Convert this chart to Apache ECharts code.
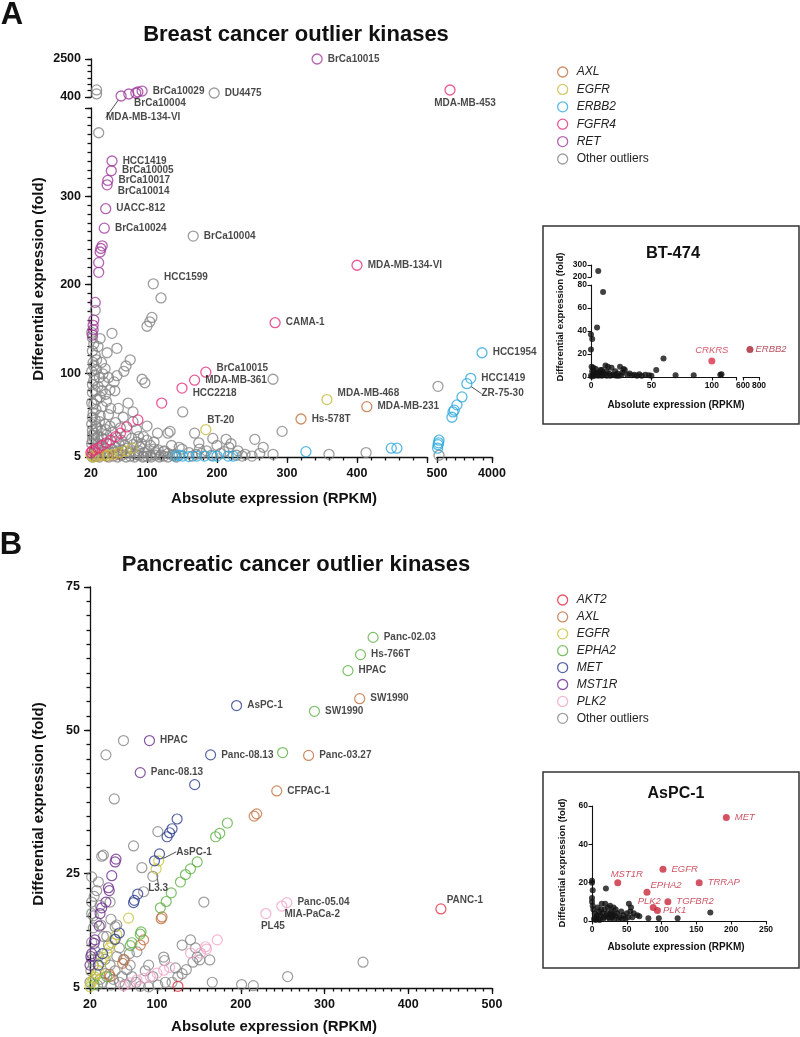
<!DOCTYPE html>
<html>
<head>
<meta charset="utf-8">
<script src="https://cdn.jsdelivr.net/npm/echarts@6/dist/echarts.min.js"></script>
<style>
  html, body { margin: 0; background: #fff; }
  #main { width: 800px; height: 1037px; }
</style>
</head>
<body>
<div id="main"></div>
<script>
// ---- panel A: breast cancer outliers  [RPKM, fold, label]
const A_Other = [
  [28,790],[28,570],[196,620,'DU4475'],
  [31,372],[166,255,'BrCa10004'],[109,201,'HCC1599'],[120,185],[107,163],[104,158],[100,153],[26,171],[33,139],
  [280,93],[564,85],[293,34],[627,7],[360,8],[413,10],[280,8],[266,16],[254,25],[261,9],
  [213,25],[217,16],[194,26],[168,32],[174,21],[151,56],[133,34],[130,32],[115,32],[146,16],
  [50,145],[57,128],[43,123],[76,115],[70,108],[67,102],[37,99],[93,93],[97,89],[57,97],[53,90],
  [47,81],[54,80],[41,76],[33,73],[73,66],[59,60],[80,56],[66,50],[45,53],[27,59],[85,36],
  [100,24],[90,16],[116,13],[96,10],
  [22,140],[28,115],[25,98],[22,87],[30,130],[35,112],[24,108],[26,120],[38,90],[30,85],[28,70],
  [24,65],[36,62],[42,68],[48,60],[22,50],[32,45],[40,42],[55,44],[62,38],[70,30],[78,26],[85,22],
  [92,20],[105,18],[110,14],[125,12],[130,9],[140,8],[120,7],[105,7],[95,6],[85,8],[75,10],[65,12],
  [50,14],[45,20],[38,25],[30,28],[25,32],[22,35],[27,40],[35,35],[42,30],[60,20],[68,18],[55,16],
  [160,10],[170,8],[185,12],[205,9],[230,12],[240,8],[250,6],[110,22],[135,18],[150,14],[175,14],
  [200,18],[220,20],[95,28],[80,45],[100,40],[30,20],[22,24],[26,15],[22,8],
  [22,5],[26,6],[32,5],[38,7],[45,5],[52,6],[58,5],[64,7],[70,5],[76,6],[82,5],[88,7],[94,5],[100,6],
  [106,5],[112,7],[118,5],[124,6],[130,5],[136,7],[142,5],[28,10],[40,11],[52,10],[64,13],[76,11],
  [88,12],[100,11],[112,10],[124,11],[165,6],[178,9],[192,7],[210,11],[228,7],[236,6],
  [21,20],[22,30],[21,42],[23,55],[21,66],[22,78],[24,92],[21,102],[23,112],[22,125],[24,133],[21,146],
  [26,47],[33,52],[29,38],[35,27],[41,36],[47,40],[51,33],[57,27],[63,24],[34,18],[40,15],[46,11],
  [25,26],[31,13],[58,12],[72,15],[80,19],[88,28],[26,80],[32,95],[28,104],[40,105],[45,95],[36,80]
];
const A_RET = [
  [343,2500,'BrCa10015'],[93,730,'BrCa10029'],[87,676,'BrCa10004'],[84,620],[74,566],[63,455,'MDA-MB-134-VI'],
  [50,340,'HCC1419'],[49,329,'BrCa10005'],[44,318,'BrCa10017'],[43,313,'BrCa10014'],[41,286,'UACC-812'],
  [39,264,'BrCa10024'],[36,244],[33,237],[34,241],[31,225],[31,214],[26,180],[24,160],[23,154],[23,149],[22,143]
];
const A_FGFR4 = [
  [1327,787,'MDA-MB-453'],[400,222,'MDA-MB-134-VI'],[283,157,'CAMA-1'],[184,101,'BrCa10015'],
  [168,92,'MDA-MB-361'],[150,83,'HCC2218'],[121,66],[87,47],[71,39],[62,32],[55,28],[48,24],[42,21],
  [36,18],[30,15],[25,13],[20,10],[22,12]
];
const A_EGFR = [[184,36,'BT-20'],[357,70,'MDA-MB-468'],[79,15],[61,10],[51,8],[37,7],[23,5],[30,6],[44,7],[70,12],[20,7]];
const A_AXL = [[320,48,'Hs-578T'],[414,62,'MDA-MB-231'],[28,6],[42,6],[58,8]];
const A_ERBB2 = [
  [3364,123,'HCC1954'],[2645,94,'HCC1419'],[2400,88,'ZR-75-30'],[2090,73],[1770,64],[1600,58],[1520,56],
  [1450,50],[630,24],[600,21],[565,19],[540,15],[327,11],[449,15],[457,15],
  [140,6],[146,7],[151,6],[160,5.5],[171,6],[182,6],[194,6],[200,6],[216,6],[223,6]
];

// ---- panel B: pancreatic cancer outliers
const B_Other = [
  [60,48.2],[39,45.7],[49,38],[101,32.3],[72,29.8],[156,20],[346,9.5],[256,7],[201,5.6],[215,5.4],[166,6],
  [140,13.4],[130,12.5],[148,10.4],[163,9.9],[108,10.4],[109,9.8],[122,8.5],[84,21.8],[82,26],
  [22,24.4],[30,23.5],[28,22],[34,28],[36,28.2],[32,19.4],[22,18],[52,16],[24,15.5],[22,13],[76,11.3],
  [64,8.2],[130,7.5],[135,8.2],[118,6],[90,9],[86,8],[70,7],[55,6],[45,5.5],[35,6],[27,7.5],[24,9],
  [30,10.5],[38,10],[44,9],[50,8],[60,10],[67,11],[55,12],[40,14],[28,16.5],[33,16],[45,17],[22,20],
  [25,21],[95,24.5],[101,5.5],[80,5.3],[90,5.2],[110,6],[125,7],[143,9.5],[146,12],[151,9.9],
  [24,17.6],[44,20],[50,15.7],[20,6],[22,10],[32,6.5],[58,7],[75,6],[95,7],
  [21,8],[26,11.5],[29,5.5],[38,7.5],[48,6.5],[62,5.6],[68,9],[52,10.5],[42,12.5],[36,14]
];
const B_AKT2 = [[439,18.8,'PANC-1'],[125,5.3]];
const B_AXL = [
  [342,55.5,'SW1990'],[281,45.6,'Panc-03.27'],[243,39.4,'CFPAC-1'],[216,35],[219,35.4],
  [105,17.1],[106,17.4],[84,13.4],[80,12.5],[61,9.9],[59,9.3],[44,7],[43,7.4]
];
const B_EGFR = [
  [102,27.2,'AsPC-1'],[99,25.8,'L3.3'],[66,17.2],[52,14.3],[46,12.9],[40,11.1],[34,9.5],[30,8.1],
  [26,6.9],[22,6],[24,6.5],[28,7.5],[36,10.3],[43,12],[49,13.6],[20,5.2]
];
const B_EPHA2 = [
  [358,66.2,'Panc-02.03'],[343,63.2,'Hs-766T'],[328,60.4,'HPAC'],[288,53.3,'SW1990'],[250,46.1],
  [184,33.8],[175,32],[170,31.4],[148,27],[140,25.8],[134,24.8],[128,23.5],[117,21.6],[111,20.1],
  [104,19],[81,14.8],[80,14.4],[70,12.9],[68,12.4],[40,7],[25,5.6]
];
const B_MET = [
  [195,54.3,'AsPC-1'],[164,45.7,'Panc-08.13'],[145,40.5],[124,34.5],[118,32.8],[115,32.1],[112,31.4],
  [103,28.4],[97,27.2],[77,21.4],[72,19.9],[73,20.3],[55,14.6],[50,13.5],[35,11],[30,9]
];
const B_MST1R = [
  [91,48.2,'HPAC'],[80,42.6,'Panc-08.13'],[50,27],[51,27.5],[46,24.6],[42,22.5],[43,22],[39,20],
  [34,19],[32,18],[31,15.8],[26,13.4],[25,12.8],[22,11],[21,10.5],[20,9]
];
const B_PLK2 = [
  [255,19.9,'Panc-05.04'],[249,19.3,'MIA-PaCa-2'],[230,18,'PL45'],[172,13.4],[158,12.2],[159,11.8],
  [140,11.1],[152,11.1],[108,8.1],[100,7.6],[92,7],[84,6.7],[76,6.4],[68,5.9],[60,5.4],[115,8.6]
];

// ---- inset BT-474
const BT_kinases = [
  [6,250],[10,74],[5,43],[0,37],[1,33],[0,24],[0.5,9],[2,8],[4,7],[1,5],[3,4],[5,3],[7,2],[2,2],[8,6],
  [10,4],[12,10],[14,9],[15,3],[17,8],[18,2],[20,5],[22,3],[24,9],[26,4],[27,7],[28,6],[30,2],[32,3],
  [34,1.5],[36,2],[38,1],[40,2.5],[42,1],[45,2],[48,1.5],[50,1],[54,6],[60,16],[70,1.5],[85,1.5],
  [107,2],[108,2.5],[0,1],[1,0.5],[3,1],[6,1],[9,1],[11,2],[13,1],[16,1],[19,1.5],[21,1],[23,1],
  [25,1.5],[6,4],[9,6],[13,5]
];
const BT_CRKRS = [[100,14,'CRKRS']];
const BT_ERBB2 = [[687,24,'ERBB2']];

// ---- inset AsPC-1
const AS_kinases = [
  [0,21],[0,20],[1,16],[0,12],[0,10],[1,8],[20,17],[53,9],[170,4.5],[123,1.5],[96,1.5],[81,1.5],
  [2,6],[4,4],[6,2],[8,7],[10,5],[12,3],[14,9],[16,1],[18,6],[22,4],[24,2],[26,8],[28,5],[30,3],
  [32,1],[34,6],[36,4],[40,2],[42,5],[45,3],[48,1],[50,4],[55,5],[58,2],[60,4],[65,3],[68,2.5],
  [3,1],[5,0.5],[7,3],[9,1],[11,0.5],[13,6],[15,4],[17,2],[19,9],[21,3],[23,7],[25,1],[27,4],
  [29,2],[31,7],[33,3],[38,1],[44,1],[52,2],[56,7]
];
const AS_hits = [
  [193,54,'MET'],[102,27,'EGFR'],[154,20,'TRRAP'],[37,20,'MST1R'],[79,15,'EPHA2'],
  [109,10,'TGFBR2'],[88,7,'PLK2'],[94,5.5,'PLK1']
];

const colA = { AXL:'#c07040', EGFR:'#c8bc40', ERBB2:'#2ea8dc', FGFR4:'#e4307c', RET:'#a03c9c', Other:'#858585' };
const colB = { AKT2:'#e02a3c', AXL:'#c07040', EGFR:'#c8c43c', EPHA2:'#5cb044', MET:'#2c3c8c', MST1R:'#6c2c8c', PLK2:'#f0a4c8', Other:'#858585' };

// label placement (not data)
const labelPlace = {
  'A_RET|BrCa10004': { pos:'bottom', dx:22, dy:-4 },
  'A_RET|MDA-MB-134-VI': { pos:'bottom', dx:22, dy:6, leader:true },
  'A_RET|BrCa10014': { dy:6 },
  'A_FGFR4|MDA-MB-453': { pos:'bottom', dx:15, dy:-2 },
  'A_FGFR4|BrCa10015': { dy:-4 },
  'A_FGFR4|HCC2218': { dy:5 },
  'A_Other|HCC1599': { dy:-7 },
  'A_EGFR|BT-20': { pos:'top', dx:15, dy:6 },
  'A_EGFR|MDA-MB-468': { dy:-6 },
  'A_ERBB2|ZR-75-30': { dx:4, dy:10, leader:true },
  'B_AKT2|PANC-1': { pos:'top', dx:24, dy:7 },
  'B_EGFR|AsPC-1': { dx:7, dy:-9, leader:true },
  'B_EGFR|L3.3': { pos:'bottom', dx:2, dy:4, leader:true },
  'B_PLK2|MIA-PaCa-2': { dx:-8, dy:8 },
  'B_PLK2|PL45': { pos:'bottom', dx:7, dy:-3 },
  'BT|CRKRS': { pos:'top', dy:3 },
  'BT|ERBB2': { dx:-3 },
  'AS|MST1R': { pos:'top', dx:9, dy:5 },
  'AS|EPHA2': { dx:-5, dy:-7 },
  'AS|PLK2': { pos:'top', dx:-4, dy:7 },
  'AS|PLK1': { dx:-3 }
};

const FONT = '"Liberation Sans", Arial, Helvetica, sans-serif';
const grids = [], xAxes = [], yAxes = [], series = [];

function steps(from, to, step) {
  const out = [];
  for (let v = from; v <= to + 1e-6; v += step) out.push(Math.round(v * 1000) / 1000);
  return out;
}

function axisOf(gi, r, show, st, pos) {
  return {
    type: 'value', gridIndex: gi, min: r.min, max: r.max, show: show, position: pos,
    axisLine: { show: true, onZero: false, lineStyle: { color: '#111', width: st.lw } },
    axisTick: { show: true, customValues: r.major, length: st.major, lineStyle: { color: '#111', width: st.lw } },
    axisLabel: { show: true, customValues: r.labels, formatter: function (v) { return String(v); },
                 fontFamily: FONT, fontSize: st.fs, fontWeight: 'bold', color: '#111', margin: st.margin },
    splitLine: { show: false }
  };
}
function minorOf(gi, r, st, pos) {
  return {
    type: 'value', gridIndex: gi, min: r.min, max: r.max, position: pos,
    axisLine: { show: false, onZero: false }, axisLabel: { show: false }, splitLine: { show: false },
    axisTick: { show: true, customValues: r.minor, length: st.minor, lineStyle: { color: '#111', width: st.lw } }
  };
}
function addGrid(box, xs, ys, showX, showY, st) {
  const gi = grids.length;
  grids.push({ left: box[0], top: box[1], width: box[2], height: box[3] });
  const xi = xAxes.length;
  xAxes.push(axisOf(gi, xs, showX, st, 'bottom'));
  if (showX && xs.minor) xAxes.push(minorOf(gi, xs, st, 'bottom'));
  const yi = yAxes.length;
  yAxes.push(axisOf(gi, ys, showY, st, 'left'));
  if (showY && ys.minor) yAxes.push(minorOf(gi, ys, st, 'left'));
  return { xi: xi, yi: yi };
}

const mainLabel = { fontFamily: FONT, fontSize: 10, fontWeight: 'bold', color: '#1a1a1a' };
const insetLabel = { fontFamily: FONT, fontSize: 9.5, fontStyle: 'italic', color: '#c0283c' };

function addSeries(key, name, pts, grd, pick, style, lblStyle) {
  const buckets = {};
  pts.forEach(function (p) { const g = pick(p); (buckets[g] = buckets[g] || []).push(p); });
  Object.keys(buckets).forEach(function (g) {
    const lays = [];
    const data = buckets[g].map(function (p, i) {
      const it = { value: [p[0], p[1]] };
      if (p[2]) {
        const pl = labelPlace[key + '|' + p[2]] || {};
        it.label = Object.assign({ show: true, formatter: p[2], position: pl.pos || 'right', distance: 5 }, lblStyle);
        lays[i] = { dx: pl.dx || 0, dy: pl.dy || 0 };
        if (pl.leader) it.labelLine = { show: true, lineStyle: { color: '#222', width: 0.8 } };
      }
      return it;
    });
    series.push({
      type: 'scatter', name: name, xAxisIndex: grd[g].xi, yAxisIndex: grd[g].yi,
      clip: false, symbol: 'circle', symbolSize: style.size,
      itemStyle: style.item, data: data, silent: true,
      label: { show: false },
      labelLayout: function (params) { return lays[params.dataIndex] || {}; }
    });
  });
}

const stMain = { lw: 1.3, major: 6, minor: 3.5, fs: 12.5, margin: 10 };
const stInset = { lw: 1.1, major: 3.5, minor: 2, fs: 8.5, margin: 4 };

// ---- panel A broken axes
const axA = {
  x1: { min: 20, max: 500, labels: [20,100,200,300,400], major: [100,200,300,400,500], minor: steps(20, 500, 20) },
  x2: { min: 500, max: 4000, labels: [500,4000], major: [500,4000], minor: steps(500, 4000, 3500 / 6) },
  y1: { min: 5, max: 400, labels: [5,100,200,300], major: [5,100,200,300,400], minor: steps(10, 400, 10) },
  y2: { min: 400, max: 2500, labels: [400,2500], major: [400,2500], minor: steps(400, 2500, 350) }
};
const gA = [
  addGrid([91, 108, 336, 349], axA.x1, axA.y1, true, true, stMain),
  addGrid([437, 108, 55, 349], axA.x2, axA.y1, true, false, stMain),
  addGrid([91, 59, 336, 38], axA.x1, axA.y2, false, true, stMain),
  addGrid([437, 59, 55, 38], axA.x2, axA.y2, false, false, stMain)
];
const pickA = function (p) { return (p[0] > 500 ? 1 : 0) + (p[1] > 400 ? 2 : 0); };

// ---- panel B
const axB = {
  x: { min: 20, max: 500, labels: [20,100,200,300,400,500], major: [20,100,200,300,400,500], minor: steps(20, 500, 10) },
  y: { min: 5, max: 75, labels: [5,25,50,75], major: [5,25,50,75], minor: steps(5, 75, 2.5) }
};
const gB = [addGrid([90, 587, 402, 401], axB.x, axB.y, true, true, stMain)];
const pickOne = function () { return 0; };

// ---- inset BT-474 broken axes
const axBT = {
  x1: { min: 0, max: 120, labels: [0,50,100], major: [0,50,100,120] },
  x2: { min: 600, max: 800, labels: [600,800], major: [600,800] },
  y1: { min: 0, max: 80, labels: [0,20,40,60,80], major: [0,20,40,60,80] },
  y2: { min: 200, max: 300, labels: [200,300], major: [200,300] }
};
const gBT = [
  addGrid([591, 285, 145, 92], axBT.x1, axBT.y1, true, true, stInset),
  addGrid([743, 285, 16, 92], axBT.x2, axBT.y1, true, false, stInset),
  addGrid([591, 265, 145, 12], axBT.x1, axBT.y2, false, true, stInset),
  addGrid([743, 265, 16, 12], axBT.x2, axBT.y2, false, false, stInset)
];
const pickBT = function (p) { return (p[0] > 120 ? 1 : 0) + (p[1] > 80 ? 2 : 0); };

// ---- inset AsPC-1
const axAS = {
  x: { min: 0, max: 250, labels: [0,50,100,150,200,250], major: [0,50,100,150,200,250] },
  y: { min: 0, max: 60, labels: [0,20,40,60], major: [0,20,40,60] }
};
const gAS = [addGrid([592, 806, 174, 115], axAS.x, axAS.y, true, true, stInset)];

function ring(c, w) { return { size: 10, item: { color: 'rgba(0,0,0,0)', borderColor: c, borderWidth: w || 1.3 } }; }

addSeries('A_Other', 'Other outliers', A_Other, gA, pickA, ring(colA.Other), mainLabel);
addSeries('A_AXL', 'AXL', A_AXL, gA, pickA, ring(colA.AXL), mainLabel);
addSeries('A_EGFR', 'EGFR', A_EGFR, gA, pickA, ring(colA.EGFR), mainLabel);
addSeries('A_ERBB2', 'ERBB2', A_ERBB2, gA, pickA, ring(colA.ERBB2), mainLabel);
addSeries('A_FGFR4', 'FGFR4', A_FGFR4, gA, pickA, ring(colA.FGFR4), mainLabel);
addSeries('A_RET', 'RET', A_RET, gA, pickA, ring(colA.RET), mainLabel);

addSeries('B_Other', 'Other outliers', B_Other, gB, pickOne, ring(colB.Other, 1.2), mainLabel);
addSeries('B_PLK2', 'PLK2', B_PLK2, gB, pickOne, ring(colB.PLK2, 1.2), mainLabel);
addSeries('B_AXL', 'AXL', B_AXL, gB, pickOne, ring(colB.AXL, 1.2), mainLabel);
addSeries('B_EGFR', 'EGFR', B_EGFR, gB, pickOne, ring(colB.EGFR, 1.2), mainLabel);
addSeries('B_EPHA2', 'EPHA2', B_EPHA2, gB, pickOne, ring(colB.EPHA2, 1.2), mainLabel);
addSeries('B_MET', 'MET', B_MET, gB, pickOne, ring(colB.MET, 1.2), mainLabel);
addSeries('B_MST1R', 'MST1R', B_MST1R, gB, pickOne, ring(colB.MST1R, 1.2), mainLabel);
addSeries('B_AKT2', 'AKT2', B_AKT2, gB, pickOne, ring(colB.AKT2, 1.2), mainLabel);

addSeries('BT', 'BT-474 kinases', BT_kinases, gBT, pickBT, { size: 6, item: { color: '#111' } }, insetLabel);
addSeries('BT', 'BT-474 CRKRS', BT_CRKRS, gBT, pickBT, { size: 7, item: { color: '#d8304c' } },
          Object.assign({}, insetLabel, { color: '#d0304a' }));
addSeries('BT', 'BT-474 ERBB2', BT_ERBB2, gBT, pickBT, { size: 7, item: { color: '#a82232' } },
          Object.assign({}, insetLabel, { color: '#a82232' }));
addSeries('AS', 'AsPC-1 kinases', AS_kinases, gAS, pickOne, { size: 6, item: { color: '#111' } }, insetLabel);
addSeries('AS', 'AsPC-1 hits', AS_hits, gAS, pickOne, { size: 7, item: { color: '#c8283c' } }, insetLabel);

function legendItems(names, cols) {
  return names.map(function (n) {
    const key = n === 'Other outliers' ? 'Other' : n;
    return {
      name: n, icon: 'circle',
      itemStyle: { color: 'rgba(0,0,0,0)', borderColor: cols[key], borderWidth: 1.3 },
      textStyle: { fontStyle: n === 'Other outliers' ? 'normal' : 'italic' }
    };
  });
}
const legendBase = {
  orient: 'vertical', left: 552, itemWidth: 18, itemHeight: 10, selectedMode: false,
  textStyle: { fontFamily: FONT, fontSize: 12, color: '#222', lineHeight: 14 }
};

function txt(x, y, s, size, rot, weight) {
  return {
    type: 'text', x: x, y: y, rotation: rot || 0, silent: true,
    style: { text: s, fontFamily: FONT, fontSize: size, fontWeight: weight || 'bold', fill: '#111',
             align: 'center', verticalAlign: 'middle', textAlign: 'center', textVerticalAlign: 'middle' }
  };
}
const box = function (x, y, w, h) {
  return { type: 'rect', shape: { x: x, y: y, width: w, height: h }, silent: true, z: -1,
           style: { fill: 'none', stroke: '#333', lineWidth: 1.5 } };
};

const chart = echarts.init(document.getElementById('main'));
chart.setOption({
  animation: false,
  backgroundColor: '#ffffff',
  grid: grids,
  xAxis: xAxes,
  yAxis: yAxes,
  legend: [
    Object.assign({}, legendBase, { top: 60, itemGap: 3.4,
      data: legendItems(['AXL','EGFR','ERBB2','FGFR4','RET','Other outliers'], colA) }),
    Object.assign({}, legendBase, { top: 588, itemGap: 2.9,
      data: legendItems(['AKT2','AXL','EGFR','EPHA2','MET','MST1R','PLK2','Other outliers'], colB) })
  ],
  graphic: [
    box(543, 226, 256, 198),
    box(543, 772, 256, 196),
    txt(12, 15, 'A', 31),
    txt(11, 545, 'B', 31),
    txt(296, 35, 'Breast cancer outlier kinases', 22),
    txt(296, 565, 'Pancreatic cancer outlier kinases', 22),
    txt(274, 499, 'Absolute expression (RPKM)', 15),
    txt(274, 1027, 'Absolute expression (RPKM)', 15),
    txt(39, 279, 'Differential expression (fold)', 15, Math.PI / 2),
    txt(39, 804, 'Differential expression (fold)', 15, Math.PI / 2),
    txt(673, 253, 'BT-474', 16.5),
    txt(676, 794, 'AsPC-1', 16),
    txt(676, 405, 'Absolute expression (RPKM)', 10),
    txt(676, 947, 'Absolute expression (RPKM)', 10),
    txt(560, 317, 'Differential expression (fold)', 9.5, Math.PI / 2),
    txt(562, 863, 'Differential expression (fold)', 9.5, Math.PI / 2)
  ],
  series: series
});
</script>
</body>
</html>
